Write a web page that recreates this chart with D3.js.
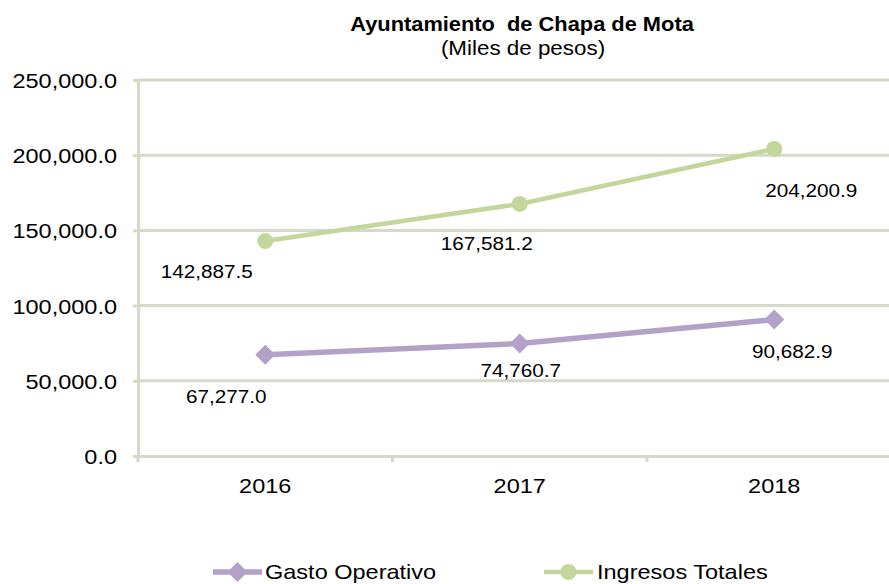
<!DOCTYPE html>
<html><head><meta charset="utf-8">
<script src="https://cdn.jsdelivr.net/npm/d3@7"></script>
<style>body{margin:0;background:#fff} text{white-space:pre}</style>
</head><body>
<svg id="c" width="889" height="584"></svg>
<script>
const years = ["2016","2017","2018"];
const gastoOperativo = [67277.0, 74760.7, 90682.9];
const ingresosTotales = [142887.5, 167581.2, 204200.9];
const yTicks = [0, 50000, 100000, 150000, 200000, 250000];
const seriesNames = ["Gasto Operativo", "Ingresos Totales"];
const titleText = "Ayuntamiento  de Chapa de Mota";
const subtitleText = "(Miles de pesos)";

(function(){
const SX = 1.12;
const FONT = "Liberation Sans, Arial, sans-serif";
const svg = d3.select("#c");
const mLeft = 138, mRight = 901.5, mTop = 80, mBottom = 456;
const x = d3.scaleBand().domain(years).range([mLeft, mRight]);
const y = d3.scaleLinear().domain([0, 250000]).range([mBottom, mTop]);
const fmt = d3.format(",.1f");
const gridCol = "#d4d9c8";
const colors = ["#b3a2c7", "#c3d69b"];

function txt(g, x0, y0, s, size, anchor, weight, fill){
  const t = g.append("g").attr("transform", `translate(${x0},${y0}) scale(${SX},1)`)
    .append("text").attr("x",0).attr("y",0).attr("xml:space","preserve").text(s)
    .attr("font-family", FONT).attr("font-size", size)
    .attr("text-anchor", anchor).attr("fill", fill||"#000");
  if (weight) t.attr("font-weight", weight);
  return t;
}

txt(svg, 522, 31, titleText, 19.5, "middle", "bold");
txt(svg, 523, 55, subtitleText, 20, "middle");

svg.append("g").selectAll("line").data(yTicks.filter(d=>d>0)).join("line")
  .attr("x1", mLeft).attr("x2", 889).attr("y1", d=>y(d)).attr("y2", d=>y(d))
  .attr("stroke", gridCol).attr("stroke-width", 3);

const ya = svg.append("g").attr("transform", `translate(${mLeft},0)`)
  .call(d3.axisLeft(y).tickValues(yTicks).tickSize(5).tickFormat(""));
ya.select(".domain").attr("stroke", gridCol).attr("stroke-width", 3);
ya.selectAll(".tick line").attr("stroke", gridCol).attr("stroke-width", 3);
yTicks.forEach(v => txt(svg, 117, y(v)+8, fmt(v), 21, "end"));

const xa = svg.append("g").attr("transform", `translate(0,${mBottom})`)
  .call(d3.axisBottom(x).tickSize(0).tickFormat(""));
xa.select(".domain").attr("stroke", gridCol).attr("stroke-width", 3);
const bounds = years.map(d=>x(d)).concat([mRight]);
svg.append("g").selectAll("line").data(bounds).join("line")
  .attr("x1", d=>d).attr("x2", d=>d).attr("y1", mBottom).attr("y2", mBottom+6)
  .attr("stroke", gridCol).attr("stroke-width", 3);
years.forEach(d => txt(svg, x(d)+x.bandwidth()/2, 493, d, 21, "middle"));

const cx = d => x(d) + x.bandwidth()/2;
const line = d3.line().x((v,i)=>cx(years[i])).y(v=>y(v));

svg.append("path").datum(ingresosTotales).attr("d", line).attr("fill","none")
  .attr("stroke", colors[1]).attr("stroke-width", 4.5);
svg.append("g").selectAll("circle").data(ingresosTotales).join("circle")
  .attr("cx",(v,i)=>cx(years[i])).attr("cy", v=>y(v)).attr("r", 8).attr("fill", colors[1]);

svg.append("path").datum(gastoOperativo).attr("d", line).attr("fill","none")
  .attr("stroke", colors[0]).attr("stroke-width", 5.5);
const diamond = (cx0, cy0, r) => `M${cx0},${cy0-r}L${cx0+r},${cy0}L${cx0},${cy0+r}L${cx0-r},${cy0}Z`;
svg.append("g").selectAll("path").data(gastoOperativo).join("path")
  .attr("d",(v,i)=>diamond(cx(years[i]), y(v), 10)).attr("fill", colors[0]);

const offI = [[-58.5,37],[-33,46],[37,48]];
const offG = [[-39,48],[1,33],[18,38]];
ingresosTotales.forEach((v,i)=>txt(svg, cx(years[i])+offI[i][0], y(v)+offI[i][1], fmt(v), 18.5, "middle"));
gastoOperativo.forEach((v,i)=>txt(svg, cx(years[i])+offG[i][0], y(v)+offG[i][1], fmt(v), 18.5, "middle"));

const lg = svg.append("g");
lg.append("line").attr("x1",213).attr("x2",262).attr("y1",572).attr("y2",572).attr("stroke",colors[0]).attr("stroke-width",5.5);
lg.append("path").attr("d", diamond(237.5,572,10)).attr("fill", colors[0]);
txt(lg, 265, 579, seriesNames[0], 21, "start");
lg.append("line").attr("x1",544).attr("x2",593).attr("y1",572).attr("y2",572).attr("stroke",colors[1]).attr("stroke-width",4.5);
lg.append("circle").attr("cx",568.5).attr("cy",572).attr("r",8).attr("fill", colors[1]);
txt(lg, 597, 579, seriesNames[1], 21, "start");
})();
</script>
</body></html>
